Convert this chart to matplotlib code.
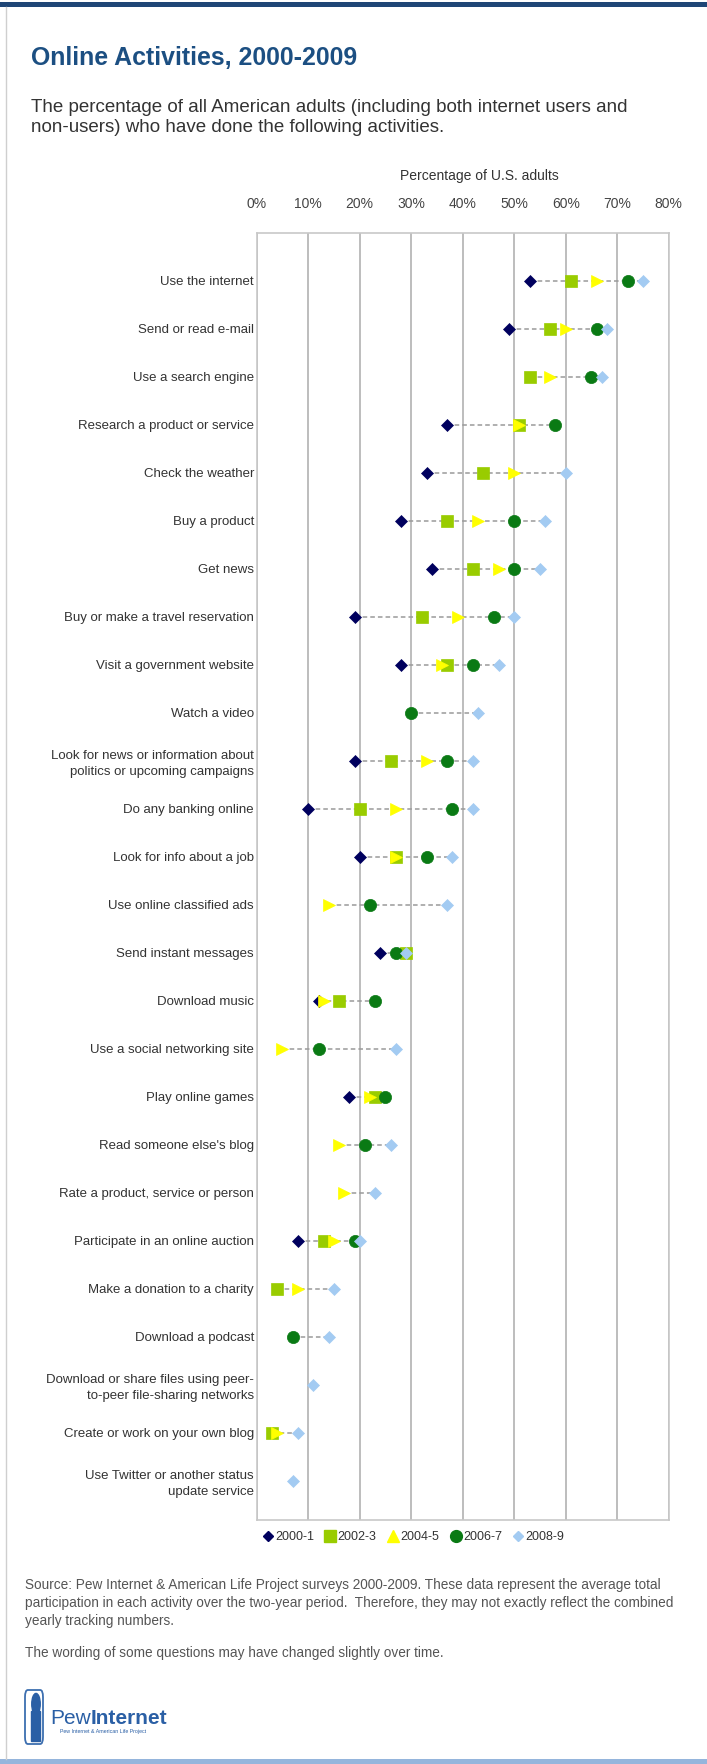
import matplotlib
matplotlib.use("Agg")
import matplotlib.pyplot as plt
import numpy as np
from matplotlib.lines import Line2D
from matplotlib.patches import Rectangle, Circle, FancyBboxPatch

nan = np.nan

categories = [
    "Use the internet",
    "Send or read e-mail",
    "Use a search engine",
    "Research a product or service",
    "Check the weather",
    "Buy a product",
    "Get news",
    "Buy or make a travel reservation",
    "Visit a government website",
    "Watch a video",
    "Look for news or information about\npolitics or upcoming campaigns",
    "Do any banking online",
    "Look for info about a job",
    "Use online classified ads",
    "Send instant messages",
    "Download music",
    "Use a social networking site",
    "Play online games",
    "Read someone else's blog",
    "Rate a product, service or person",
    "Participate in an online auction",
    "Make a donation to a charity",
    "Download a podcast",
    "Download or share files using peer-\nto-peer file-sharing networks",
    "Create or work on your own blog",
    "Use Twitter or another status\nupdate service",
]

v2000 = [53, 49, nan, 37, 33, 28, 34, 19, 28, nan, 19, 10, 20, nan, 24, 12, nan, 18, nan, nan, 8, nan, nan, nan, nan, nan]
v2002 = [61, 57, 53, 51, 44, 37, 42, 32, 37, nan, 26, 20, 27, nan, 29, 16, nan, 23, nan, nan, 13, 4, nan, nan, 3, nan]
v2004 = [66, 60, 57, 51, 50, 43, 47, 39, 36, nan, 33, 27, 27, 14, nan, 13, 5, 22, 16, 17, 15, 8, nan, nan, 4, nan]
v2006 = [72, 66, 65, 58, nan, 50, 50, 46, 42, 30, 37, 38, 33, 22, 27, 23, 12, 25, 21, nan, 19, nan, 7, nan, nan, nan]
v2008 = [75, 68, 67, nan, 60, 56, 55, 50, 47, 43, 42, 42, 38, 37, 29, nan, 27, nan, 26, 23, 20, 15, 14, 11, 8, 7]

series_names = ["2000-1", "2002-3", "2004-5", "2006-7", "2008-9"]
xticks = [0, 10, 20, 30, 40, 50, 60, 70, 80]

W, H = 707, 1764
def fx(x):
    return x / W
def fy(y):
    return 1 - y / H

plt.rcParams['font.family'] = ['Liberation Sans', 'DejaVu Sans']

fig = plt.figure(figsize=(W / 100, H / 100), dpi=100)
fig.patch.set_facecolor("white")

ax = fig.add_axes([fx(256.7), fy(1520), fx(668.7) - fx(256.7), fy(233.3) - fy(1520)])

ypos = np.arange(len(categories))
data = np.array([v2000, v2002, v2004, v2006, v2008], dtype=float)

# dashed connectors from min to max of each row
lo = np.nanmin(data, axis=0)
hi = np.nanmax(data, axis=0)
for i in range(len(categories)):
    if hi[i] > lo[i]:
        ax.plot([lo[i], hi[i]], [ypos[i], ypos[i]], color="#9a9a9a", lw=1.1,
                ls=(0, (3, 2)), zorder=2)

styles = [
    dict(marker="D", color="#00005e", ms=6.6),
    dict(marker="s", color="#99cc00", ms=9.2),
    dict(marker=">", color="#ffff00", ms=8.8),
    dict(marker="o", color="#0a7a14", ms=8.8),
    dict(marker="D", color="#a3cbf2", ms=6.6),
]
for k in range(5):
    st = styles[k]
    ax.plot(data[k], ypos, ls="none", marker=st["marker"], ms=st["ms"],
            mfc=st["color"], mec=st["color"], mew=0.5, zorder=3 + k)

ax.set_xlim(0, 80)
ax.set_ylim(25.82, -0.99)
ax.xaxis.tick_top()
ax.set_xticks(xticks)
ax.set_xticklabels([f"{t}%" for t in xticks], fontsize=10, color="#444444")
ax.tick_params(axis="x", length=0, pad=16)
ax.set_yticks(ypos)
ax.set_yticklabels(categories, fontsize=9.5, color="#333333", linespacing=1.4)
ax.tick_params(axis="y", length=0, pad=2)
ax.grid(axis="x", color="#b8b8b8", lw=1.3)
ax.set_axisbelow(True)
for sp in ax.spines.values():
    sp.set_color("#c8c8c8")
    sp.set_linewidth(1.2)

fig.text(fx(479), fy(176), "Percentage of U.S. adults", ha="center", va="center",
         fontsize=10, color="#333333")

# legend
handles = [
    Line2D([], [], ls="none", marker="D", ms=5.5, mfc="#00005e", mec="#00005e"),
    Line2D([], [], ls="none", marker="s", ms=9, mfc="#99cc00", mec="#99cc00"),
    Line2D([], [], ls="none", marker="^", ms=8, mfc="#ffff00", mec="#ffff00"),
    Line2D([], [], ls="none", marker="o", ms=8.5, mfc="#0a7a14", mec="#0a7a14"),
    Line2D([], [], ls="none", marker="D", ms=5.5, mfc="#a3cbf2", mec="#a3cbf2"),
]
fig.legend(handles, series_names, loc="center", bbox_to_anchor=(fx(413), fy(1537)),
           ncol=5, frameon=False, fontsize=9, handletextpad=0.1, columnspacing=0.8,
           handlelength=1.0, labelcolor="#333333")

# title and subtitle
fig.text(fx(31), fy(65), "Online Activities, 2000-2009", fontsize=17.9, fontweight="bold",
         color="#1c4f82", ha="left", va="baseline")
fig.text(fx(31), fy(107), "The percentage of all American adults (including both internet users and",
         fontsize=13.5, color="#333333", ha="left", va="center")
fig.text(fx(31), fy(127), "non-users) who have done the following activities.",
         fontsize=13.5, color="#333333", ha="left", va="center")

# notes
src = ["Source: Pew Internet & American Life Project surveys 2000-2009. These data represent the average total",
       "participation in each activity over the two-year period.  Therefore, they may not exactly reflect the combined",
       "yearly tracking numbers."]
for j, line in enumerate(src):
    fig.text(fx(25), fy(1585 + 18 * j), line, fontsize=9.8, color="#555555", ha="left", va="center")
fig.text(fx(25), fy(1653), "The wording of some questions may have changed slightly over time.",
         fontsize=9.8, color="#555555", ha="left", va="center")

# logo
fig.add_artist(FancyBboxPatch((fx(25), fy(1744)), fx(43) - fx(25), fy(1690) - fy(1744),
                              boxstyle="round,pad=0,rounding_size=0.004",
                              transform=fig.transFigure, fill=False, ec="#3d6fb0", lw=1.3))
fig.add_artist(Circle((fx(36), fy(1704)), 0.006, transform=fig.transFigure, color="#2a5fa5"))
fig.add_artist(Rectangle((fx(31), fy(1741)), fx(40) - fx(31), fy(1711) - fy(1741),
                         transform=fig.transFigure, color="#2a5fa5"))
fig.text(fx(50), fy(1724), "Pew", fontsize=15, color="#2a5fa5", ha="left", va="baseline")
fig.text(fx(91), fy(1724), "Internet", fontsize=15, fontweight="bold", color="#2a5fa5",
         ha="left", va="baseline")
fig.text(fx(60), fy(1732), "Pew Internet & American Life Project", fontsize=3.8,
         color="#2a5fa5", ha="left", va="center")

# frame decorations
fig.add_artist(Rectangle((0, fy(7)), 1, fy(2) - fy(7), transform=fig.transFigure,
                         color="#1f4676", lw=0))
fig.add_artist(Rectangle((0, 0), 1, fy(1759), transform=fig.transFigure,
                         color="#95b5dc", lw=0))
fig.add_artist(Line2D([fx(5.5), fx(5.5)], [fy(1759), fy(7)], transform=fig.transFigure,
                      color="#cfcfcf", lw=1))

fig.savefig("out.png", dpi=100)
